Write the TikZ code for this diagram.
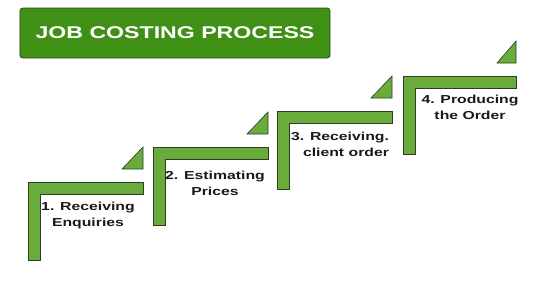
\documentclass[tikz,border=0pt]{standalone}
\usepackage{fontspec}
\setmainfont{Liberation Sans}
\usepackage{tikz}
\usetikzlibrary{positioning}
\definecolor{TitleGreen}{RGB}{64, 144, 22}
\definecolor{TitleEdge}{RGB}{40, 70, 25}
\definecolor{StepGreen}{RGB}{106, 172, 60}
\definecolor{StepEdge}{RGB}{45, 60, 35}
\definecolor{StepText}{RGB}{25, 25, 25}
\tikzset{
  titlebox/.style={rectangle, rounded corners=3pt, draw=TitleEdge, fill=TitleGreen,
                   xscale=1.36, minimum width=228pt, minimum height=50pt, line width=0.8pt,
                   font=\fontsize{17}{20}\selectfont\bfseries, text=white, align=center},
  stepshape/.style={draw=StepEdge, fill=StepGreen, line width=0.6pt, line join=miter},
  steptext/.style={xscale=1.36, font=\fontsize{11.6}{16}\selectfont\bfseries,
                   text=StepText, align=center, inner sep=0pt},
}
\begin{document}
\begin{tikzpicture}[x=1pt, y=-1pt]
      \useasboundingbox (0,0) rectangle (550,295);

      \node[titlebox] (title) at (175,33) {JOB COSTING PROCESS};

      % corners of the four steps
      \coordinate (s1) at (28,182);
      \coordinate (s2) at (153,147);
      \coordinate (s3) at (277,111);
      \coordinate (s4) at (403,76);

      % steps
      \draw[stepshape] (s1) -- ++(115,0) -- ++(0,12) -- ++(-103,0) -- ++(0,66) -- ++(-12,0) -- cycle;
      \draw[stepshape] ([shift={(94,-13)}]s1) -- ++(21,0) -- ++(0,-22) -- cycle;
      \draw[stepshape] (s2) -- ++(115,0) -- ++(0,12) -- ++(-103,0) -- ++(0,66) -- ++(-12,0) -- cycle;
      \draw[stepshape] ([shift={(94,-13)}]s2) -- ++(21,0) -- ++(0,-22) -- cycle;
      \draw[stepshape] (s3) -- ++(115,0) -- ++(0,12) -- ++(-103,0) -- ++(0,66) -- ++(-12,0) -- cycle;
      \draw[stepshape] ([shift={(94,-13)}]s3) -- ++(21,0) -- ++(0,-22) -- cycle;
      \draw[stepshape] (s4) -- ++(113,0) -- ++(0,12) -- ++(-101,0) -- ++(0,66) -- ++(-12,0) -- cycle;
      \draw[stepshape] ([shift={(94,-13)}]s4) -- ++(19,0) -- ++(0,-22) -- cycle;

      % labels
      \node[steptext] (enq)   at ([shift={(60,33)}]s1) {1. Receiving\\Enquiries};
      \node[steptext] (price) at ([shift={(62,36)}]s2) {2. Estimating\\Prices};
      \node[steptext, align=right] (order) at ([shift={(63,33)}]s3) {3. Receiving.\\client order};
      \node[steptext] (prod)  at ([shift={(67,31)}]s4) {4. Producing\\the Order};
\end{tikzpicture}
\end{document}
